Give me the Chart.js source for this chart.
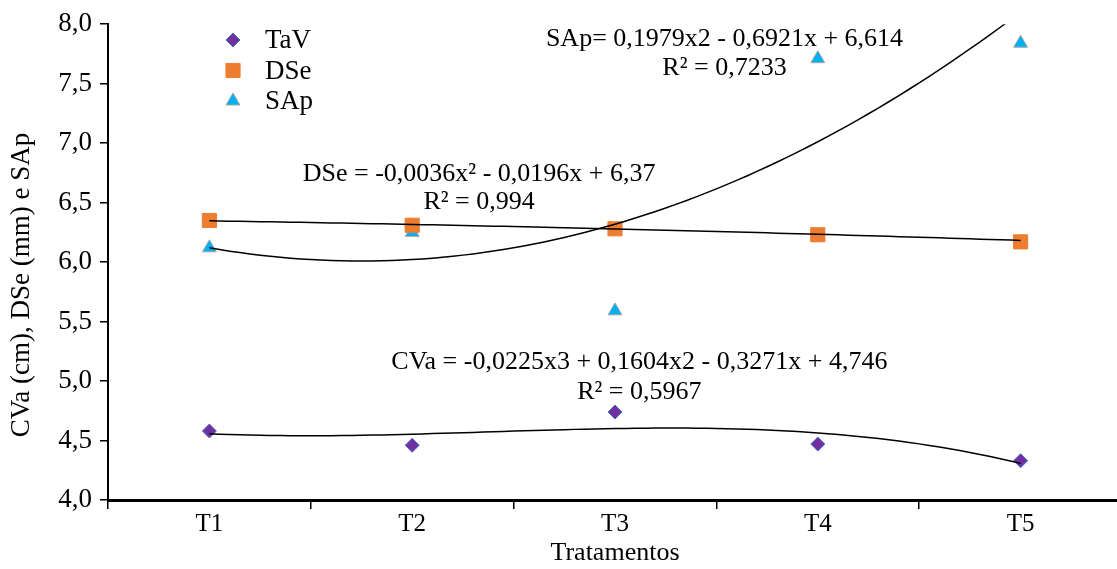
<!DOCTYPE html>
<html>
<head>
<meta charset="utf-8">
<script src="https://cdn.jsdelivr.net/npm/chart.js@4"></script>
<style>
  body { margin: 0; overflow: hidden; background: #fff; }
  #wrap { position: absolute; left: 0; top: 0; width: 1133px; height: 569px; }
</style>
</head>
<body>
<div id="wrap"><canvas id="chart"></canvas></div>
<script>
// categories and measured values
var tratamentos = ["T1", "T2", "T3", "T4", "T5"];
var tav = [4.58, 4.46, 4.74, 4.47, 4.33];
var dse = [6.35, 6.31, 6.28, 6.23, 6.17];
var sap = [6.12, 6.25, 5.59, 7.71, 7.84];
var yTicks = [4.0, 4.5, 5.0, 5.5, 6.0, 6.5, 7.0, 7.5, 8.0];

// trendline coefficients (highest power first) as printed on the chart
var coefCVa = [-0.0225, 0.1604, -0.3271, 4.746];
var coefDSe = [-0.0036, -0.0196, 6.37];
var coefSAp = [0.1979, -0.6921, 6.614];

var eqTexts = [
  { lines: ["SAp= 0,1979x2 - 0,6921x + 6,614", "R² = 0,7233"], x: 3.54, y: [7.87, 7.63] },
  { lines: ["DSe = -0,0036x² - 0,0196x + 6,37", "R² = 0,994"], x: 2.33, y: [6.74, 6.50] },
  { lines: ["CVa = -0,0225x3 + 0,1604x2 - 0,3271x + 4,746", "R² = 0,5967"], x: 3.12, y: [5.16, 4.91] }
];
var yTitle = 'CVa (cm), DSe (mm) e SAp';

var FONT = "'Liberation Serif', 'Times New Roman', serif";

function pts(vals) {
  return vals.map(function (v, i) { return { x: i + 1, y: v }; });
}
function poly(c, x) {
  var r = 0;
  for (var i = 0; i < c.length; i++) r = r * x + c[i];
  return r;
}
function curve(c) {
  var out = [];
  for (var k = 0; k <= 80; k++) {
    var x = 1 + k * 0.05;
    out.push({ x: x, y: poly(c, x) });
  }
  return out;
}

var trendStyle = {
  showLine: true, borderColor: '#000', borderWidth: 1.5, pointRadius: 0,
  xAxisID: 'xl', order: 0, fill: false, tension: 0
};

var overlay = {
  id: 'overlay',
  afterDatasetsDraw: function (chart) {
    var ctx = chart.ctx;
    var xs = chart.scales.xl, ys = chart.scales.y;
    ctx.save();
    ctx.fillStyle = '#000';
    ctx.font = '26px ' + FONT;
    ctx.textAlign = 'center';
    ctx.textBaseline = 'middle';
    eqTexts.forEach(function (t) {
      t.lines.forEach(function (ln, j) {
        ctx.fillText(ln, xs.getPixelForValue(t.x), ys.getPixelForValue(t.y[j]));
      });
    });
    // y axis title, a bit below the middle like the original
    ctx.save();
    ctx.translate(22, 285);
    ctx.rotate(-Math.PI / 2);
    ctx.font = '27px ' + FONT;
    ctx.fillText(yTitle, 0, 0);
    ctx.restore();
    // legend
    var items = chart.data.datasets.filter(function (d) { return d.legend; });
    items.forEach(function (d, i) {
      var ly = 40 + i * 30.5;
      ctx.fillStyle = d.backgroundColor;
      ctx.strokeStyle = d.borderColor;
      ctx.lineWidth = 1;
      Chart.helpers.drawPoint(ctx, { pointStyle: d.pointStyle, radius: d.pointRadius, rotation: 0, borderWidth: 1 }, 233, ly);
      ctx.fillStyle = '#000';
      ctx.textAlign = 'left';
      ctx.font = '27px ' + FONT;
      ctx.fillText(d.label, 265, ly + 1);
    });
    ctx.restore();
  }
};

new Chart(document.getElementById('chart'), {
  type: 'scatter',
  data: {
    labels: tratamentos,
    datasets: [
      { label: 'TaV', legend: true, data: pts(tav), xAxisID: 'xl', order: 1,
        pointStyle: 'rectRot', pointRadius: 7, backgroundColor: '#7030A0', borderColor: '#4472C4', borderWidth: 1 },
      { label: 'DSe', legend: true, data: pts(dse), xAxisID: 'xl', order: 1,
        pointStyle: 'rect', pointRadius: 10, backgroundColor: '#ED7D31', borderColor: '#ED7D31', borderWidth: 1 },
      { label: 'SAp', legend: true, data: pts(sap), xAxisID: 'xl', order: 1,
        pointStyle: 'triangle', pointRadius: 8, backgroundColor: '#00B0F0', borderColor: '#A5A5A5', borderWidth: 1 },
      Object.assign({ label: 'CVa trend', data: curve(coefCVa) }, trendStyle),
      Object.assign({ label: 'DSe trend', data: curve(coefDSe) }, trendStyle),
      Object.assign({ label: 'SAp trend', data: curve(coefSAp) }, trendStyle)
    ]
  },
  options: {
    responsive: true,
    maintainAspectRatio: false,
    animation: false,
    layout: { padding: { top: 22, right: 0, left: 0, bottom: 0 } },
    plugins: { legend: { display: false }, tooltip: { enabled: false } },
    scales: {
      x: {
        type: 'category',
        labels: tratamentos,
        offset: true,
        afterFit: function (s) { s.height = 69; },
        grid: { offset: true, drawOnChartArea: false, tickLength: 9, color: '#000', lineWidth: 1.5 },
        border: { color: '#000', width: 3 },
        ticks: { color: '#000', font: { family: FONT, size: 25 }, padding: 0 },
        title: { display: true, text: 'Tratamentos', color: '#000', font: { family: FONT, size: 26 }, padding: { top: 0, bottom: 0 } }
      },
      xl: { type: 'linear', display: false, min: 0.5, max: 5.5 },
      y: {
        min: 4, max: 8,
        afterFit: function (s) { s.width = 108; },
        afterBuildTicks: function (s) { s.ticks = yTicks.map(function (v) { return { value: v }; }); },
        grid: { drawOnChartArea: false, tickLength: 8, color: '#000', lineWidth: 1.5 },
        border: { color: '#000', width: 2 },
        ticks: {
          color: '#000', font: { family: FONT, size: 27 }, padding: 8,
          callback: function (v) { return Number(v).toFixed(1).replace('.', ','); }
        }
      }
    }
  },
  plugins: [overlay]
});
</script>
</body>
</html>
